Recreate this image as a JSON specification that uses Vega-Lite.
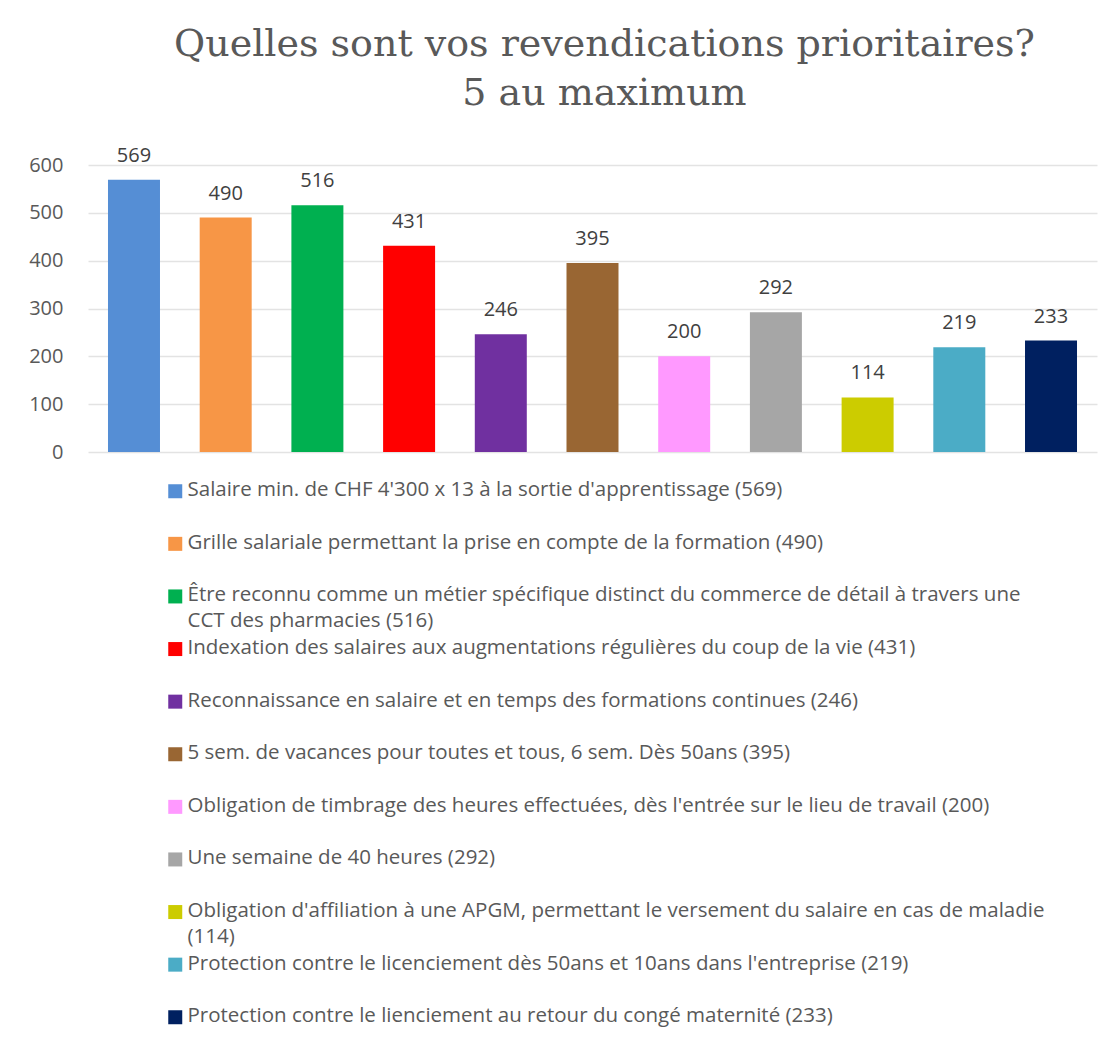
{
  "$schema": "https://vega.github.io/schema/vega-lite/v6.json",
  "autosize": "none",
  "width": 1009,
  "height": 287,
  "padding": {"left": 88, "top": 165, "right": 15, "bottom": 598},
  "background": "white",
  "title": {
    "text": ["Quelles sont vos revendications prioritaires?", "5 au maximum"],
    "font": "DejaVu Serif",
    "fontSize": 38,
    "fontWeight": "normal",
    "color": "#595959",
    "lineHeight": 49,
    "anchor": "middle",
    "frame": "group",
    "dx": 12,
    "offset": 33
  },
  "data": {
    "values": [
      {"item": "Salaire min. de CHF 4'300 x 13 à la sortie d'apprentissage (569)|", "n": 569},
      {"item": "Grille salariale permettant la prise en compte de la formation (490)|", "n": 490},
      {"item": "Être reconnu comme un métier spécifique distinct du commerce de détail à travers une|CCT des pharmacies (516)", "n": 516},
      {"item": "Indexation des salaires aux augmentations régulières du coup de la vie (431)|", "n": 431},
      {"item": "Reconnaissance en salaire et en temps des formations continues (246)|", "n": 246},
      {"item": "5 sem. de vacances pour toutes et tous, 6 sem. Dès 50ans (395)|", "n": 395},
      {"item": "Obligation de timbrage des heures effectuées, dès l'entrée sur le lieu de travail (200)|", "n": 200},
      {"item": "Une semaine de 40 heures (292)|", "n": 292},
      {"item": "Obligation d'affiliation à une APGM, permettant le versement du salaire en cas de maladie|(114)", "n": 114},
      {"item": "Protection contre le licenciement dès 50ans et 10ans dans l'entreprise (219)|", "n": 219},
      {"item": "Protection contre le lienciement au retour du congé maternité (233)|", "n": 233}
    ]
  },
  "encoding": {
    "x": {
      "field": "item",
      "type": "nominal",
      "sort": null,
      "axis": null,
      "scale": {"paddingInner": 0.433, "paddingOuter": 0.218}
    },
    "y": {
      "field": "n",
      "type": "quantitative",
      "scale": {"domain": [0, 600], "nice": false},
      "axis": {
        "values": [0, 100, 200, 300, 400, 500, 600],
        "title": null,
        "domain": false,
        "ticks": false,
        "grid": true,
        "gridColor": "#e3e3e3",
        "gridWidth": 1.5,
        "labelFont": "Open Sans",
        "labelFontSize": 20,
        "labelColor": "#595959",
        "labelPadding": 25
      }
    }
  },
  "layer": [
    {
      "mark": {"type": "bar"},
      "encoding": {
        "color": {
          "field": "item",
          "type": "nominal",
          "sort": null,
          "scale": {
            "range": ["#558ED5", "#F79646", "#00B050", "#FF0000", "#7030A0", "#996633", "#FF99FF", "#A6A6A6", "#CCCC00", "#4BACC6", "#002060"]
          },
          "legend": {
            "orient": "none",
            "legendX": 77,
            "legendY": 316,
            "direction": "vertical",
            "columns": 1,
            "title": null,
            "padding": 0,
            "symbolType": "square",
            "symbolSize": 196,
            "symbolStrokeWidth": 0,
            "symbolFillOpacity": 1,
            "labelFont": "Open Sans",
            "labelFontSize": 20.5,
            "labelColor": "#595959",
            "labelLimit": 1000,
            "labelOffset": 2,
            "labelBaseline": "top",
            "labelExpr": "split(datum.label, '|')",
            "rowPadding": 5.6,
            "encode": {"labels": {"update": {"dy": {"value": -11}, "lineHeight": {"value": 26}}}}
          }
        }
      }
    },
    {
      "mark": {"type": "text", "baseline": "alphabetic", "dy": -18, "font": "Open Sans", "fontSize": 20, "color": "#404040"},
      "encoding": {"text": {"field": "n", "type": "quantitative"}}
    }
  ],
  "config": {"view": {"stroke": null}}
}
